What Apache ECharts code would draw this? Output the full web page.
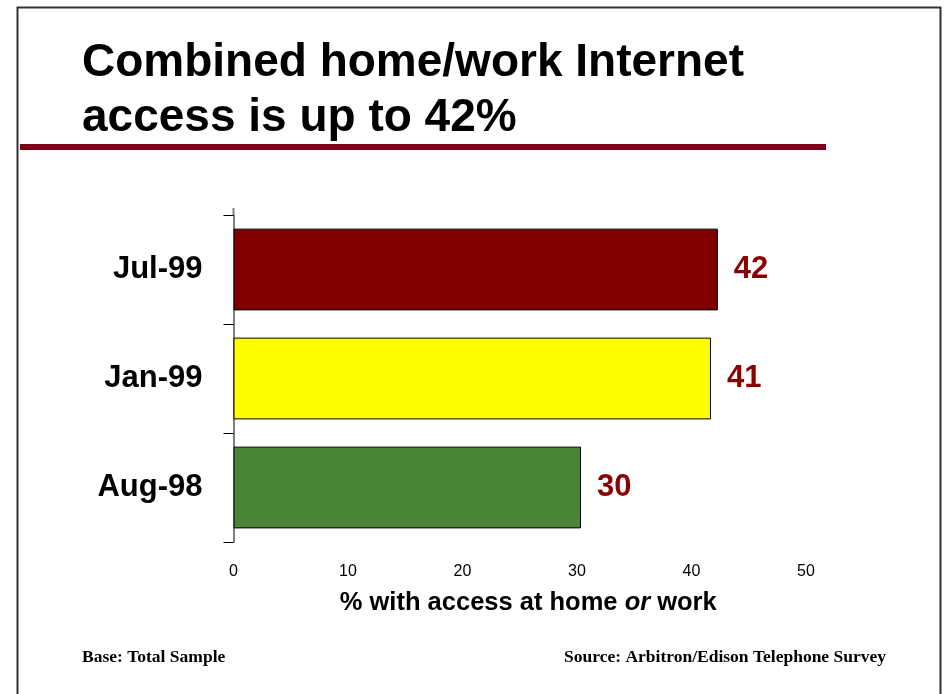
<!DOCTYPE html>
<html>
<head>
<meta charset="utf-8">
<script src="https://cdn.jsdelivr.net/npm/echarts@6/dist/echarts.min.js"></script>
<style>
html,body{margin:0;padding:0;background:#fff;}
#chart{width:945px;height:694px;}
</style>
</head>
<body>
<div id="chart"></div>
<script>
// Data (bottom to top)
const categories = ['Aug-98', 'Jan-99', 'Jul-99'];
const values = [30.35, 41.7, 42.3];
const barColors = ['#488536', '#FFFF00', '#800000'];
const xTicks = [0, 10, 20, 30, 40, 50];
const titleText = 'Combined home/work Internet\naccess is up to 42%';
const footLeft = 'Base: Total Sample';
const footRight = 'Source: Arbitron/Edison Telephone Survey';

const chart = echarts.init(document.getElementById('chart'), null, {renderer: 'canvas'});
const option = {
  backgroundColor: '#fff',
  animation: false,
  title: {
    text: titleText,
    left: 82, top: 36, padding: 0,
    textStyle: {fontFamily: 'Liberation Sans, Arial, sans-serif', fontSize: 46, fontWeight: 'bold', color: '#000', lineHeight: 55}
  },
  graphic: [
    {type: 'rect', shape: {x: 17.5, y: 7.5, width: 923, height: 700}, style: {fill: 'none', stroke: '#333', lineWidth: 2}, silent: true},
    {type: 'rect', shape: {x: 20, y: 144, width: 806, height: 6}, style: {fill: '#7B0018'}, silent: true},
    {type: 'line', shape: {x1: 233.5, y1: 208, x2: 233.5, y2: 215}, style: {stroke: '#808080', lineWidth: 2}, silent: true},
    {type: 'text', left: 82, top: 648, style: {text: footLeft, font: 'bold 17.5px "Liberation Serif", "Times New Roman", serif', fill: '#000'}},
    {type: 'text', right: 59, top: 648, style: {text: footRight, font: 'bold 17.5px "Liberation Serif", "Times New Roman", serif', fill: '#000'}}
  ],
  grid: {left: 233.5, top: 215, width: 572.5, height: 327, containLabel: false, outerBoundsMode: 'none'},
  xAxis: {
    type: 'value', min: xTicks[0], max: xTicks[xTicks.length - 1], interval: 10,
    axisLine: {show: false}, axisTick: {show: false}, splitLine: {show: false},
    axisLabel: {fontFamily: 'Liberation Sans, Arial, sans-serif', fontSize: 16, color: '#000', margin: 22},
    name: '{a|% with access at home }{b|or}{a| work}',
    nameLocation: 'middle', nameGap: 48,
    nameTextStyle: {
      padding: [0, 0, 0, 17],
      rich: {
        a: {fontFamily: 'Liberation Sans, Arial, sans-serif', fontSize: 25.5, fontWeight: 'bold', color: '#000'},
        b: {fontFamily: 'Liberation Sans, Arial, sans-serif', fontSize: 25.5, fontWeight: 'bold', fontStyle: 'italic', color: '#000'}
      }
    }
  },
  yAxis: {
    type: 'category', data: categories,
    axisLine: {show: true, lineStyle: {color: '#808080', width: 2}},
    axisTick: {show: true, length: 10, lineStyle: {color: '#000', width: 1}},
    axisLabel: {fontFamily: 'Liberation Sans, Arial, sans-serif', fontSize: 31, fontWeight: 'bold', color: '#000', margin: 31},
    splitLine: {show: false}
  },
  series: [{
    type: 'bar',
    data: values.map((v, i) => ({value: v, itemStyle: {color: barColors[i]}})),
    barCategoryGap: '25%',
    itemStyle: {borderColor: '#000', borderWidth: 1},
    label: {
      show: true, position: 'right', distance: 16,
      formatter: p => String(Math.floor(p.value)),
      fontFamily: 'Liberation Sans, Arial, sans-serif', fontSize: 31, fontWeight: 'bold', color: '#8B0000'
    }
  }]
};
chart.setOption(option);
</script>
</body>
</html>
